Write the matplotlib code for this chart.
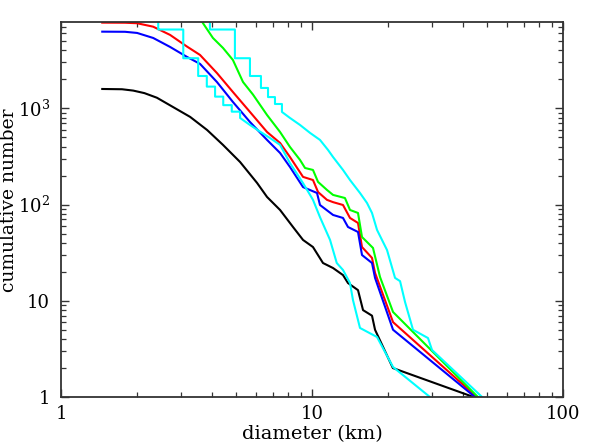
import numpy as np
import matplotlib
matplotlib.use("Agg")
import matplotlib.pyplot as plt
from matplotlib.ticker import LogLocator, FixedLocator, NullFormatter

plt.rcParams['font.family'] = ['DejaVu Serif']
plt.rcParams['mathtext.fontset'] = 'dejavuserif'

# ---- data ----
black_d = [1.46, 1.75, 1.94, 2.15, 2.41, 2.79, 3.27, 3.82, 4.42, 5.17, 6.04, 6.62,
           7.46, 8.40, 9.21, 10.09, 11.06, 12.13, 13.29, 13.91, 15.25, 15.97,
           17.34, 17.83, 21.0, 44.0]
black_n = [1590, 1580, 1530, 1440, 1290, 1035, 815, 596, 417, 277, 168, 120,
           87.9, 58.5, 42.9, 36.2, 24.7, 21.9, 18.5, 15.3, 12.9, 8.0,
           7.0, 5.0, 2.0, 1.0]

red_d = [1.46, 1.8, 2.01, 2.33, 2.72, 3.18, 3.58, 4.18, 4.84, 5.66, 6.62, 7.46, 8.17,
         9.21, 10.09, 10.57, 11.47, 12.13, 13.29, 14.17, 15.25, 15.82, 17.34, 17.83,
         21.03, 45.4]
red_n = [7780, 7760, 7670, 7060, 5800, 4380, 3590, 2330, 1480, 918, 568, 437, 312,
         194, 180, 135, 112, 106, 99, 72.6, 64.4, 36.2, 27.9, 19.5, 6.0, 1.0]

blue_d = [1.46, 1.8, 2.01, 2.33, 2.72, 3.18, 3.58, 4.18, 4.84, 5.66, 6.62, 7.46, 8.17,
          9.21, 10.47, 10.76, 12.13, 13.29, 13.91, 15.25, 15.82, 17.34, 17.83,
          21.03, 44.6]
blue_n = [6270, 6250, 6080, 5390, 4350, 3420, 2900, 1880, 1166, 722, 470, 344, 246,
          152, 132, 99, 78, 72.6, 58.5, 51.9, 29.9, 24.7, 17.3, 5.0, 1.0]

green_d = [3.55, 3.68, 4.03, 4.42, 4.84, 5.31, 5.82, 6.62, 7.46, 8.17, 8.96, 9.38,
           10.09, 10.57, 11.47, 12.13, 13.53, 14.17, 15.25, 15.82, 17.5, 18.66,
           21.03, 45.8]
green_n = [9000, 7670, 5390, 4245, 3185, 1880, 1390, 853, 568, 397, 291, 240,
           229, 172, 142, 126, 117, 87.9, 81.8, 46.0, 35.4, 17.7, 7.65, 1.0]

# cyan (upper): stair part (drop diameters, levels) then smooth tail
cyanU_drop = [3.92, 4.93, 5.66, 6.26, 6.68, 7.12, 7.59]
cyanU_lev = [9000, 6600, 3320, 2170, 1630, 1310, 1110, 918]
cyanU_d = [8.17, 8.96, 9.83, 10.76, 11.58, 12.13, 13.29, 14.17, 15.53, 16.56,
           17.34, 18.16, 19.9, 21.42, 22.43, 23.48, 25.26, 28.98, 30.07, 47.6]
cyanU_n = [795, 672, 555, 470, 370, 312, 229, 180, 132, 104,
           81.8, 54.5, 33.7, 17.3, 16.0, 9.7, 5.0, 4.1, 3.08, 1.0]

# cyan (lower)
cyanL_drop = [2.44, 3.07, 3.52, 3.81, 4.11, 4.43, 4.79, 5.17]
cyanL_lev = [9000, 6600, 3320, 2170, 1683, 1324, 1080, 924, 795]
cyanL_d = [5.66, 6.21, 6.80, 7.46, 8.17, 9.21, 10.09, 10.76, 11.8, 12.55,
           13.29, 14.17, 14.56, 15.53, 18.16, 21.03, 29.5]
cyanL_n = [672, 573, 492, 417, 270, 167, 112, 74, 42.9, 24.7,
           20.9, 15.3, 10.2, 5.22, 4.2, 2.05, 1.0]


def stair_then_tail(drop, lev, d, n):
    xs, ys = [], []
    for i, x in enumerate(drop):
        xs += [x, x]
        ys += [lev[i], lev[i + 1]]
    return xs + list(d), ys + list(n)


fig = plt.figure(figsize=(5.98, 4.47), dpi=100)
ax = fig.add_axes([61 / 598, 50 / 447, 502 / 598, 375 / 447])

lw = 1.5
ax.plot(black_d, black_n, color='black', lw=lw)
ax.plot(red_d, red_n, color='#ff0000', lw=lw)
ax.plot(blue_d, blue_n, color='#0000ff', lw=lw)
ax.plot(green_d, green_n, color='#00ff00', lw=lw)
xu, yu = stair_then_tail(cyanU_drop, cyanU_lev, cyanU_d, cyanU_n)
ax.plot(xu, yu, color='#00ffff', lw=lw)
xl, yl = stair_then_tail(cyanL_drop, cyanL_lev, cyanL_d, cyanL_n)
ax.plot(xl, yl, color='#00ffff', lw=lw)

ax.set_xscale('log')
ax.set_yscale('log')
ax.set_xlim(1, 100)
ax.set_ylim(1, 7900)

xticks = [1, 10, 100]
xticklabels = ['1', '10', '100']
yticks = [1, 10, 100, 1000]
yticklabels = ['1', '10', r'$10^2$', r'$10^3$']
ax.xaxis.set_major_locator(FixedLocator(xticks))
ax.set_xticklabels(xticklabels)
ax.yaxis.set_major_locator(FixedLocator(yticks))
ax.set_yticklabels(yticklabels)
ax.xaxis.set_minor_locator(LogLocator(base=10, subs=np.arange(2, 10)))
ax.yaxis.set_minor_locator(LogLocator(base=10, subs=np.arange(2, 10)))
ax.xaxis.set_minor_formatter(NullFormatter())
ax.yaxis.set_minor_formatter(NullFormatter())

ax.tick_params(which='both', direction='in', top=True, right=True,
               color='#333333', labelsize=13)
ax.tick_params(which='major', length=6, width=1.0)
ax.tick_params(which='minor', length=3.5, width=0.9)
ax.tick_params(axis='x', which='major', pad=6)
ax.tick_params(axis='y', which='major', pad=8)
for s in ax.spines.values():
    s.set_linewidth(1.3)
    s.set_color('#333333')

ax.set_xlabel('diameter (km)', fontsize=14, labelpad=1)
fig.text(9.5 / 598, 1 - 200 / 447, 'cumulative number', fontsize=13.5,
         rotation=90, ha='center', va='center')

fig.savefig('out.png', dpi=100)
